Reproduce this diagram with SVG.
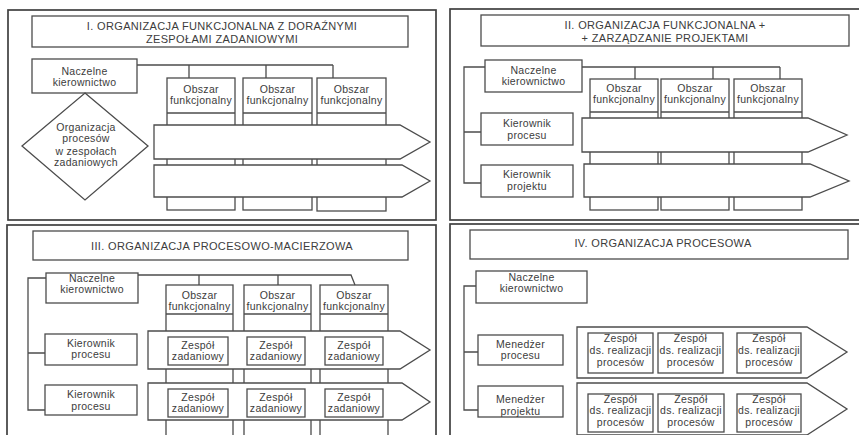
<svg xmlns="http://www.w3.org/2000/svg" width="859" height="435" viewBox="0 0 859 435">
  <style>
    .frame { fill: none; stroke: #404040; stroke-width: 1.7; }
    .box { fill: #fff; stroke: #4c4c4c; stroke-width: 1.3; }
    .col { fill: #fff; stroke: #4c4c4c; stroke-width: 1.3; }
    .arrow { fill: #fff; stroke: #4c4c4c; stroke-width: 1.3; }
    .conn { fill: none; stroke: #4c4c4c; stroke-width: 1.3; }
    text { font-family: "Liberation Sans", Arial, Helvetica, sans-serif; font-size: 10.5px; fill: #3c3c3c; text-anchor: middle; letter-spacing: 0.3px; }
    .title { font-size: 11px; letter-spacing: 0.35px; }
  </style>
  <rect width="859" height="435" fill="#fff"/>

  <!-- ===== Panel I ===== -->
  <g id="panel-1">
    <rect class="frame" x="8" y="10" width="428" height="210"/>
    <g id="title-1">
      <rect class="box" x="32" y="16" width="376" height="31"/>
      <text class="title" x="222" y="29.5">I. ORGANIZACJA FUNKCJONALNA Z DORAŹNYMI</text>
      <text class="title" x="222" y="43">ZESPOŁAMI ZADANIOWYMI</text>
    </g>
    <g id="p1-area-1">
      <rect class="col" x="167" y="78" width="68" height="132"/>
      <line class="conn" x1="167" y1="113" x2="235" y2="113"/>
      <text x="201" y="92.7">Obszar</text>
      <text x="201" y="104.2">funkcjonalny</text>
    </g>
    <g id="p1-area-2">
      <rect class="col" x="243" y="78" width="69" height="132"/>
      <line class="conn" x1="243" y1="113" x2="312" y2="113"/>
      <text x="277.5" y="92.7">Obszar</text>
      <text x="277.5" y="104.2">funkcjonalny</text>
    </g>
    <g id="p1-area-3">
      <rect class="col" x="317" y="78" width="69" height="133"/>
      <line class="conn" x1="317" y1="113" x2="386" y2="113"/>
      <text x="351.5" y="92.7">Obszar</text>
      <text x="351.5" y="104.2">funkcjonalny</text>
    </g>
    <g id="p1-flow-1">
      <polygon class="arrow" points="154,125 400,125 430,142 400,159 154,159"/>
    </g>
    <g id="p1-flow-2">
      <polygon class="arrow" points="154,165 402,165 430,181 402,197 154,197"/>
    </g>
    <g id="p1-top">
      <rect class="box" x="32" y="59" width="105" height="34"/>
      <text x="84.5" y="74.7">Naczelne</text>
      <text x="84.5" y="85.7">kierownictwo</text>
    </g>
    <g id="p1-teams">
      <polygon class="box" points="85,93 148,146 85,200 22,146"/>
      <text x="86" y="130.7">Organizacja</text>
      <text x="86" y="142.2">procesów</text>
      <text x="86" y="154.7">w zespołach</text>
      <text x="86" y="166.2">zadaniowych</text>
    </g>
  </g>

  <!-- ===== Panel II ===== -->
  <g id="panel-2">
    <rect class="frame" x="450" y="9" width="420" height="211"/>
    <g id="title-2">
      <rect class="box" x="481" y="15" width="368" height="31"/>
      <text class="title" x="665" y="29">II. ORGANIZACJA FUNKCJONALNA +</text>
      <text class="title" x="665" y="41.5">+ ZARZĄDZANIE PROJEKTAMI</text>
    </g>
    <g id="p2-area-1">
      <rect class="col" x="590" y="79" width="68" height="131"/>
      <line class="conn" x1="590" y1="112" x2="658" y2="112"/>
      <text x="624" y="91.7">Obszar</text>
      <text x="624" y="103">funkcjonalny</text>
    </g>
    <g id="p2-area-2">
      <rect class="col" x="661" y="79" width="68" height="131"/>
      <line class="conn" x1="661" y1="112" x2="729" y2="112"/>
      <text x="695" y="91.7">Obszar</text>
      <text x="695" y="103">funkcjonalny</text>
    </g>
    <g id="p2-area-3">
      <rect class="col" x="734" y="79" width="68" height="131"/>
      <line class="conn" x1="734" y1="112" x2="802" y2="112"/>
      <text x="768" y="91.7">Obszar</text>
      <text x="768" y="103">funkcjonalny</text>
    </g>
    <g id="p2-flow-1">
      <polygon class="arrow" points="582,118 808,118 847,135 808,152 582,152"/>
    </g>
    <g id="p2-flow-2">
      <polygon class="arrow" points="584,164 810,164 849,181 810,197 584,197"/>
    </g>
    <g id="p2-top">
      <rect class="box" x="485" y="60" width="97" height="32"/>
      <text x="533.5" y="73.7">Naczelne</text>
      <text x="533.5" y="84.5">kierownictwo</text>
    </g>
    <g id="p2-process">
      <rect class="box" x="481" y="113" width="92" height="32"/>
      <text x="527" y="126.7">Kierownik</text>
      <text x="527" y="138.5">procesu</text>
    </g>
    <g id="p2-project">
      <rect class="box" x="481" y="165" width="92" height="32"/>
      <text x="527" y="177.7">Kierownik</text>
      <text x="527" y="189.5">projektu</text>
    </g>
  </g>

  <!-- ===== Panel III ===== -->
  <g id="panel-3">
    <rect class="frame" x="7" y="225" width="429" height="220"/>
    <g id="title-3">
      <rect class="box" x="33" y="231" width="375" height="29"/>
      <text class="title" x="222" y="250">III. ORGANIZACJA PROCESOWO-MACIERZOWA</text>
    </g>
    <g id="p3-area-1">
      <rect class="col" x="166" y="285" width="67" height="160"/>
      <line class="conn" x1="166" y1="314" x2="233" y2="314"/>
      <text x="199.5" y="298.7">Obszar</text>
      <text x="199.5" y="309.7">funkcjonalny</text>
    </g>
    <g id="p3-area-2">
      <rect class="col" x="244" y="285" width="67" height="160"/>
      <line class="conn" x1="244" y1="314" x2="311" y2="314"/>
      <text x="277.5" y="298.7">Obszar</text>
      <text x="277.5" y="309.7">funkcjonalny</text>
    </g>
    <g id="p3-area-3">
      <rect class="col" x="320" y="285" width="68" height="160"/>
      <line class="conn" x1="320" y1="314" x2="388" y2="314"/>
      <text x="354" y="298.7">Obszar</text>
      <text x="354" y="309.7">funkcjonalny</text>
    </g>
    <g id="p3-flow-1">
      <polygon class="arrow" points="148,331 400,331 430,350 400,369 148,369"/>
    </g>
    <g id="p3-flow-2">
      <polygon class="arrow" points="148,383 402,383 430,402 402,420 148,420"/>
    </g>
    <g id="p3-team-1-1"><rect class="box" x="168" y="337" width="60" height="28"/><text x="198" y="348.7">Zespół</text><text x="198" y="359.7">zadaniowy</text></g>
    <g id="p3-team-1-2"><rect class="box" x="247" y="337" width="58" height="28"/><text x="276" y="348.7">Zespół</text><text x="276" y="359.7">zadaniowy</text></g>
    <g id="p3-team-1-3"><rect class="box" x="325" y="337" width="58" height="28"/><text x="354" y="348.7">Zespół</text><text x="354" y="359.7">zadaniowy</text></g>
    <g id="p3-team-2-1"><rect class="box" x="168" y="389" width="60" height="28"/><text x="198" y="400.7">Zespół</text><text x="198" y="411.7">zadaniowy</text></g>
    <g id="p3-team-2-2"><rect class="box" x="247" y="389" width="58" height="28"/><text x="276" y="400.7">Zespół</text><text x="276" y="411.7">zadaniowy</text></g>
    <g id="p3-team-2-3"><rect class="box" x="325" y="389" width="58" height="28"/><text x="354" y="400.7">Zespół</text><text x="354" y="411.7">zadaniowy</text></g>
    <g id="p3-top">
      <rect class="box" x="46" y="273" width="92" height="30"/>
      <text x="92" y="281.7">Naczelne</text>
      <text x="92" y="292.7">kierownictwo</text>
    </g>
    <g id="p3-process-1">
      <rect class="box" x="45" y="334" width="92" height="31"/>
      <text x="91" y="346.7">Kierownik</text>
      <text x="91" y="357.7">procesu</text>
    </g>
    <g id="p3-process-2">
      <rect class="box" x="45" y="385" width="92" height="30"/>
      <text x="91" y="398.2">Kierownik</text>
      <text x="91" y="410.2">procesu</text>
    </g>
  </g>

  <!-- ===== Panel IV ===== -->
  <g id="panel-4">
    <rect class="frame" x="450" y="224" width="420" height="220"/>
    <g id="title-4">
      <rect class="box" x="470" y="230" width="378" height="29"/>
      <text class="title" x="663" y="247">IV. ORGANIZACJA PROCESOWA</text>
    </g>
    <g id="p4-flow-1">
      <polygon class="arrow" points="577,327 807,327 847,352 807,378 577,378"/>
    </g>
    <g id="p4-flow-2">
      <polygon class="arrow" points="577,383 807,383 847,409 807,435 577,435"/>
    </g>
    <g id="p4-team-1-1"><rect class="box" x="588" y="333" width="65" height="40"/><text x="620.5" y="342">Zespół</text><text x="620.5" y="353.5">ds. realizacji</text><text x="620.5" y="365.5">procesów</text></g>
    <g id="p4-team-1-2"><rect class="box" x="658" y="333" width="65" height="40"/><text x="690.5" y="342">Zespół</text><text x="690.5" y="353.5">ds. realizacji</text><text x="690.5" y="365.5">procesów</text></g>
    <g id="p4-team-1-3"><rect class="box" x="737" y="333" width="64" height="40"/><text x="769" y="342">Zespół</text><text x="769" y="353.5">ds. realizacji</text><text x="769" y="365.5">procesów</text></g>
    <g id="p4-team-2-1"><rect class="box" x="588" y="394" width="65" height="38"/><text x="620.5" y="403">Zespół</text><text x="620.5" y="414">ds. realizacji</text><text x="620.5" y="426">procesów</text></g>
    <g id="p4-team-2-2"><rect class="box" x="658" y="394" width="66" height="38"/><text x="691" y="403">Zespół</text><text x="691" y="414">ds. realizacji</text><text x="691" y="426">procesów</text></g>
    <g id="p4-team-2-3"><rect class="box" x="737" y="394" width="64" height="38"/><text x="769" y="403">Zespół</text><text x="769" y="414">ds. realizacji</text><text x="769" y="426">procesów</text></g>
    <g id="p4-top">
      <rect class="box" x="476" y="271" width="111" height="32"/>
      <text x="531.5" y="280.7">Naczelne</text>
      <text x="531.5" y="291.7">kierownictwo</text>
    </g>
    <g id="p4-process">
      <rect class="box" x="478" y="335" width="85" height="30"/>
      <text x="520.5" y="347.7">Menedżer</text>
      <text x="520.5" y="359.2">procesu</text>
    </g>
    <g id="p4-project">
      <rect class="box" x="478" y="386" width="85" height="31"/>
      <text x="520.5" y="403.2">Menedżer</text>
      <text x="520.5" y="414.7">projektu</text>
    </g>
  </g>

  <!-- ===== Connectors ===== -->
  <g id="connectors" class="conn">
    <!-- Panel I: top management to functional areas -->
    <path d="M137 65 H333 M189 65 V78 M266 65 V78 M333 65 V78"/>
    <!-- Panel II: top management to areas and managers -->
    <path d="M582 67 H780 M635 67 V79 M713 67 V79 M780 67 V79"/>
    <path d="M485 67 H464 V183 H481 M464 132 H481"/>
    <!-- Panel III -->
    <path d="M138 275 H351 L355 285 M199 275 V285 M278 275 V285"/>
    <path d="M46 278 H28 V410 H45 M28 353 H45"/>
    <!-- Panel IV -->
    <path d="M476 286 H464 V410 H478 M464 352 H478"/>
  </g>
</svg>
